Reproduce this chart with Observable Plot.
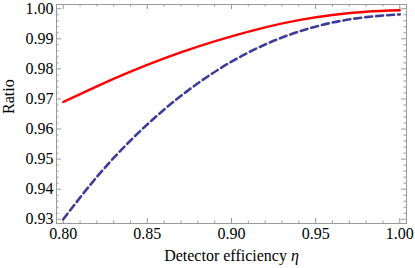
<!DOCTYPE html>
<html>
<head>
<meta charset="utf-8">
<script src="https://cdn.jsdelivr.net/npm/d3@7"></script>
<script src="https://cdn.jsdelivr.net/npm/@observablehq/plot@0.6"></script>
<style>
  html, body { margin: 0; padding: 0; background: white; }
</style>
</head>
<body>
<div id="chart"></div>
<script>
// Detector efficiency (x)
const eta = [0.80, 0.82, 0.84, 0.86, 0.88, 0.90, 0.92, 0.94, 0.96, 0.98, 1.00];
// Solid red curve
const ratioSolid = [0.9690, 0.9742, 0.9791, 0.9835, 0.9874, 0.9908, 0.9938, 0.9962, 0.9979, 0.9990, 0.9995];
// Dashed blue curve
const ratioDashed = [0.9300, 0.9441, 0.9562, 0.9665, 0.9752, 0.9824, 0.9881, 0.9924, 0.9954, 0.9972, 0.9981];

// Tick values
const xMajor = [0.80, 0.85, 0.90, 0.95, 1.00];
const yMajor = [0.93, 0.94, 0.95, 0.96, 0.97, 0.98, 0.99, 1.00];
const xMinor = d3.range(80, 101, 1).map(v => v / 100).filter(v => !xMajor.some(m => Math.abs(m - v) < 1e-9));
const yMinor = d3.range(930, 1001, 2).map(v => v / 1000).filter(v => !yMajor.some(m => Math.abs(m - v) < 1e-9));

const xLabel = "Detector efficiency η";
const yLabel = "Ratio";

const rows = eta.map((e, i) => ({eta: e, solid: ratioSolid[i], dashed: ratioDashed[i]}));

const W = 415, H = 268;
const mL = 56, mR = 9, mT = 4, mB = 45;
const iW = W - mL - mR, iH = H - mT - mB;
const frameColor = "#9a9a9a";
const majLen = 5, minLen = 2.5;
const fs = 16;

const chart = Plot.plot({
  width: W,
  height: H,
  marginLeft: mL,
  marginRight: mR,
  marginTop: mT,
  marginBottom: mB,
  x: {domain: [0.796, 1.004], axis: null},
  y: {domain: [0.9286, 1.0014], axis: null},
  style: {fontFamily: "'Liberation Serif', 'DejaVu Serif', serif", fontSize: fs + "px", color: "black", background: "white"},
  marks: [
    // ticks inside frame, bottom and top
    Plot.ruleX(xMajor, {stroke: frameColor, insetTop: iH - majLen}),
    Plot.ruleX(xMajor, {stroke: frameColor, insetBottom: iH - majLen}),
    Plot.ruleX(xMinor, {stroke: frameColor, insetTop: iH - minLen}),
    Plot.ruleX(xMinor, {stroke: frameColor, insetBottom: iH - minLen}),
    // ticks inside frame, left and right
    Plot.ruleY(yMajor, {stroke: frameColor, insetRight: iW - majLen}),
    Plot.ruleY(yMajor, {stroke: frameColor, insetLeft: iW - majLen}),
    Plot.ruleY(yMinor, {stroke: frameColor, insetRight: iW - minLen}),
    Plot.ruleY(yMinor, {stroke: frameColor, insetLeft: iW - minLen}),
    Plot.frame({stroke: frameColor}),
    // tick labels
    Plot.text(xMajor, {x: d => d, text: d => d.toFixed(2), frameAnchor: "bottom", lineAnchor: "middle", dy: 10, fontSize: fs, fill: "black"}),
    Plot.text(yMajor, {y: d => d, text: d => d.toFixed(2), frameAnchor: "left", textAnchor: "end", dx: -3, fontSize: fs, fill: "black"}),
    // curves
    Plot.line(rows, {x: "eta", y: "solid", stroke: "#ff0000", strokeWidth: 2.4, curve: "natural"}),
    Plot.line(rows, {x: "eta", y: "dashed", stroke: "#3d3d99", strokeWidth: 2.6, strokeDasharray: "7,4", curve: "natural"}),
    // axis titles
    Plot.text([yLabel], {frameAnchor: "left", dx: -48, rotate: -90, fontSize: fs, fill: "black"}),
    Plot.text([xLabel], {frameAnchor: "bottom", lineAnchor: "middle", dy: 32, fontSize: fs, fill: "black"})
  ]
});

// italicize the eta symbol in the x label
d3.select(chart).selectAll("text").filter(function() { return this.textContent === xLabel; })
  .each(function() {
    const t = d3.select(this);
    t.text("Detector efficiency ");
    t.append("tspan").attr("font-style", "italic").text("η");
  });

document.getElementById("chart").appendChild(chart);
</script>
</body>
</html>
